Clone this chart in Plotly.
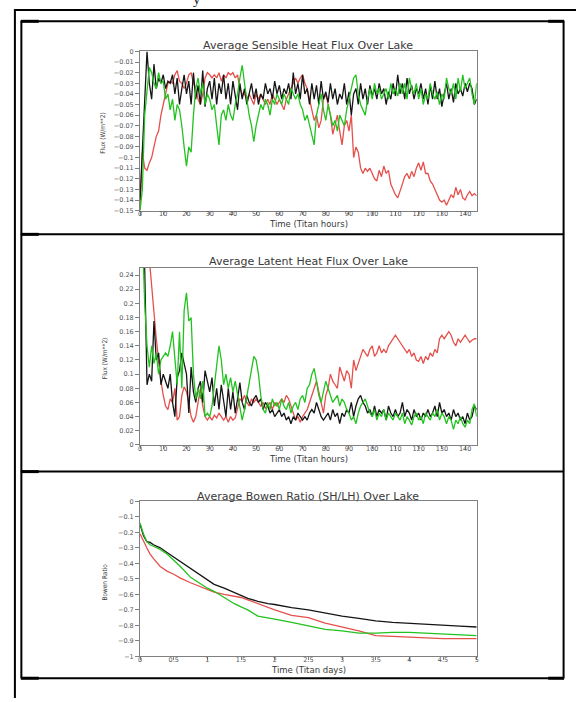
import plotly.graph_objects as go

W, H = 578, 702

# ---------------- data ----------------
hours = list(range(0, 146))

sh_black = [-0.14, -0.09, -0.05, 0.0, -0.03, -0.045, -0.012, -0.035, -0.025, -0.03,
            -0.022, -0.035, -0.028, -0.03, -0.022, -0.04, -0.025, -0.05, -0.035, -0.022,
            -0.04, -0.028, -0.05, -0.02, -0.045, -0.032, -0.05, -0.018, -0.052, -0.035,
            -0.028, -0.045, -0.025, -0.05, -0.03, -0.04, -0.022, -0.045, -0.03, -0.05,
            -0.028, -0.04, -0.055, -0.03, -0.045, -0.035, -0.05, -0.04, -0.03, -0.045,
            -0.035, -0.05, -0.04, -0.045, -0.03, -0.04, -0.035, -0.045, -0.028, -0.04,
            -0.032, -0.045, -0.035, -0.04, -0.03, -0.045, -0.02, -0.04, -0.03, -0.045,
            -0.022, -0.04, -0.035, -0.05, -0.03, -0.045, -0.032, -0.05, -0.028, -0.045,
            -0.038, -0.048, -0.03, -0.045, -0.035, -0.05, -0.04, -0.045, -0.03, -0.05,
            -0.038, -0.06, -0.04, -0.035, -0.05, -0.03, -0.045, -0.035, -0.05, -0.032,
            -0.042, -0.035, -0.045, -0.03, -0.04, -0.035, -0.05, -0.038, -0.045, -0.03,
            -0.042, -0.022, -0.04, -0.03, -0.045, -0.025, -0.04, -0.032, -0.045, -0.035,
            -0.04, -0.03, -0.045, -0.035, -0.05, -0.032, -0.045, -0.028, -0.045, -0.035,
            -0.052, -0.04, -0.03, -0.045, -0.035, -0.048, -0.03, -0.04, -0.035, -0.042,
            -0.03, -0.038, -0.03, -0.035, -0.05, -0.045]

sh_green = [-0.15, -0.13, -0.06, -0.04, -0.015, -0.02, -0.03, -0.035, -0.02, -0.03,
            -0.028, -0.045, -0.04, -0.055, -0.045, -0.065, -0.05, -0.055, -0.07, -0.09,
            -0.108, -0.09, -0.095, -0.06, -0.035, -0.025, -0.04, -0.03, -0.05, -0.04,
            -0.045, -0.055, -0.05, -0.07, -0.088, -0.06, -0.055, -0.065, -0.05, -0.06,
            -0.065, -0.05, -0.04, -0.025, -0.013, -0.03, -0.045, -0.06, -0.07, -0.085,
            -0.07, -0.06, -0.05, -0.055, -0.045, -0.05, -0.06, -0.045, -0.05, -0.04,
            -0.045, -0.05, -0.04, -0.045, -0.05, -0.035, -0.04, -0.045, -0.04, -0.05,
            -0.055, -0.065, -0.06, -0.07, -0.08, -0.088, -0.06, -0.05, -0.04, -0.055,
            -0.065, -0.05, -0.06, -0.07, -0.065, -0.075, -0.06, -0.065, -0.07, -0.055,
            -0.045, -0.035, -0.025, -0.022, -0.04, -0.05, -0.055, -0.06, -0.045, -0.035,
            -0.045, -0.03, -0.04, -0.035, -0.045, -0.04, -0.035, -0.045, -0.03, -0.04,
            -0.035, -0.042, -0.03, -0.04, -0.03, -0.045, -0.025, -0.035, -0.04, -0.03,
            -0.045, -0.035, -0.05, -0.04, -0.045, -0.03, -0.04, -0.045, -0.038, -0.05,
            -0.04, -0.045, -0.025, -0.035, -0.04, -0.03, -0.045, -0.025, -0.038, -0.022,
            -0.035, -0.03, -0.025, -0.04, -0.05, -0.03]

sh_red = [-0.15, -0.095, -0.11, -0.112, -0.105, -0.1, -0.09, -0.08, -0.075, -0.06,
          -0.05, -0.04, -0.03, -0.028, -0.03, -0.022, -0.018, -0.028, -0.03, -0.035,
          -0.03, -0.022, -0.02, -0.03, -0.035, -0.045, -0.05, -0.04, -0.025, -0.02,
          -0.022, -0.025, -0.022, -0.025, -0.02, -0.028, -0.022, -0.025, -0.02, -0.022,
          -0.02, -0.025, -0.022, -0.035, -0.04, -0.04, -0.045, -0.04, -0.045, -0.05,
          -0.04, -0.045, -0.04, -0.045, -0.05, -0.045, -0.05, -0.04, -0.045, -0.05,
          -0.045, -0.05, -0.055, -0.045, -0.04, -0.035, -0.03, -0.025, -0.03, -0.025,
          -0.022, -0.03, -0.035, -0.045, -0.055, -0.065, -0.06, -0.072, -0.065, -0.045,
          -0.04, -0.05, -0.06, -0.078, -0.07, -0.06, -0.075, -0.088, -0.07, -0.065,
          -0.075, -0.06, -0.1, -0.09, -0.095, -0.11, -0.115, -0.11, -0.113, -0.11,
          -0.115, -0.12, -0.122, -0.112, -0.118, -0.108, -0.115, -0.112, -0.125, -0.13,
          -0.135, -0.138, -0.132, -0.125, -0.118, -0.115, -0.12, -0.113, -0.118, -0.11,
          -0.105, -0.112, -0.104, -0.115, -0.115, -0.122, -0.125, -0.13, -0.135, -0.14,
          -0.142, -0.14, -0.145, -0.14, -0.135, -0.138, -0.128, -0.135, -0.13, -0.138,
          -0.14, -0.135, -0.132, -0.136, -0.134, -0.136]

lh_black = [0.35, 0.3, 0.25, 0.085, 0.1, 0.09, 0.175, 0.12, 0.13, 0.085,
            0.1, 0.09, 0.08, 0.1, 0.06, 0.04, 0.095, 0.105, 0.13, 0.115,
            0.1, 0.045, 0.11, 0.075, 0.06, 0.08, 0.09, 0.06, 0.105, 0.09,
            0.075, 0.095, 0.055, 0.08, 0.05, 0.085, 0.065, 0.04, 0.08, 0.05,
            0.075, 0.045, 0.065, 0.088, 0.06, 0.05, 0.07, 0.06, 0.055, 0.065,
            0.07, 0.06, 0.065, 0.05, 0.06, 0.055, 0.045, 0.05, 0.04, 0.045,
            0.05, 0.04, 0.045, 0.035, 0.04, 0.03, 0.04, 0.035, 0.045, 0.04,
            0.035, 0.04, 0.035, 0.045, 0.05, 0.045, 0.06, 0.05, 0.04, 0.035,
            0.04, 0.045, 0.035, 0.05, 0.04, 0.045, 0.03, 0.045, 0.04, 0.05,
            0.045, 0.06, 0.04, 0.055, 0.065, 0.07, 0.06, 0.055, 0.045, 0.05,
            0.04, 0.055, 0.04, 0.05, 0.045, 0.05, 0.035, 0.055, 0.045, 0.04,
            0.05, 0.04, 0.045, 0.06, 0.04, 0.05, 0.045, 0.035, 0.05, 0.04,
            0.045, 0.035, 0.045, 0.04, 0.05, 0.04, 0.045, 0.055, 0.04, 0.06,
            0.045, 0.05, 0.04, 0.045, 0.035, 0.05, 0.04, 0.045, 0.035, 0.04,
            0.03, 0.045, 0.035, 0.04, 0.055, 0.05]

lh_green = [0.35, 0.3, 0.2, 0.14, 0.11, 0.14, 0.115, 0.13, 0.1, 0.12,
            0.125, 0.13, 0.125, 0.14, 0.16, 0.12, 0.085, 0.16, 0.08, 0.19,
            0.215, 0.175, 0.18, 0.1, 0.065, 0.08, 0.065, 0.09, 0.04, 0.045,
            0.04, 0.055, 0.085, 0.11, 0.14, 0.12, 0.085, 0.1, 0.08, 0.095,
            0.075, 0.09, 0.07, 0.055, 0.035, 0.05, 0.07, 0.085, 0.11, 0.125,
            0.12, 0.1, 0.07, 0.05, 0.045, 0.06, 0.05, 0.065, 0.055, 0.06,
            0.05, 0.065, 0.055, 0.05, 0.06, 0.045, 0.055, 0.06, 0.05, 0.065,
            0.07, 0.06, 0.08, 0.085, 0.1, 0.108, 0.09, 0.07, 0.06, 0.075,
            0.09, 0.08, 0.07, 0.06, 0.065, 0.07, 0.055, 0.065, 0.06, 0.05,
            0.045, 0.035, 0.04, 0.03, 0.045, 0.055, 0.06, 0.065, 0.055, 0.045,
            0.04, 0.05, 0.035, 0.045, 0.04, 0.05, 0.035, 0.045, 0.04, 0.035,
            0.045, 0.04, 0.035, 0.045, 0.03, 0.04, 0.035, 0.028, 0.04, 0.045,
            0.035, 0.04, 0.03, 0.045, 0.04, 0.035, 0.045, 0.04, 0.05, 0.035,
            0.045, 0.04, 0.03, 0.04, 0.035, 0.022, 0.035, 0.03, 0.04, 0.03,
            0.025, 0.035, 0.03, 0.05, 0.058, 0.04]

lh_red = [0.4, 0.38, 0.35, 0.3, 0.26, 0.22, 0.19, 0.15, 0.12, 0.09,
          0.07, 0.055, 0.05, 0.065, 0.06, 0.08, 0.035, 0.04, 0.07, 0.082,
          0.075, 0.06, 0.04, 0.032, 0.04, 0.06, 0.08, 0.055, 0.04, 0.035,
          0.04, 0.035, 0.042, 0.038, 0.045, 0.04, 0.035, 0.04, 0.032, 0.04,
          0.035, 0.038, 0.05, 0.065, 0.062, 0.07, 0.06, 0.055, 0.065, 0.06,
          0.065, 0.06, 0.055, 0.06, 0.052, 0.055, 0.06, 0.05, 0.06, 0.055,
          0.06, 0.065, 0.06, 0.07, 0.065, 0.055, 0.045, 0.035, 0.04, 0.032,
          0.04, 0.045, 0.05, 0.06, 0.07, 0.08, 0.09, 0.075, 0.06, 0.045,
          0.07, 0.08, 0.1, 0.09, 0.085, 0.08, 0.11, 0.1, 0.09, 0.105,
          0.1, 0.08, 0.12, 0.105, 0.115, 0.125, 0.135, 0.13, 0.125, 0.135,
          0.14, 0.125, 0.13, 0.14, 0.13, 0.135, 0.13, 0.14, 0.145, 0.15,
          0.155, 0.15, 0.145, 0.14, 0.135, 0.13, 0.135, 0.125, 0.13, 0.12,
          0.118, 0.125, 0.115, 0.125, 0.12, 0.13, 0.125, 0.135, 0.13, 0.15,
          0.155, 0.15, 0.155, 0.16, 0.155, 0.145, 0.14, 0.15, 0.145, 0.15,
          0.155, 0.15, 0.145, 0.148, 0.15, 0.15]

days = [0, 0.05, 0.1, 0.15, 0.2, 0.3, 0.4, 0.5, 0.6, 0.75, 0.9, 1.0, 1.1, 1.25, 1.4, 1.5,
        1.6, 1.75, 1.9, 2.0, 2.25, 2.5, 2.75, 3.0, 3.25, 3.5, 3.75, 4.0, 4.25, 4.5, 4.75, 5.0]
br_black = [-0.15, -0.22, -0.26, -0.265, -0.28, -0.3, -0.33, -0.36, -0.39, -0.43, -0.48,
            -0.51, -0.535, -0.56, -0.59, -0.605, -0.625, -0.645, -0.66, -0.665, -0.685,
            -0.7, -0.72, -0.74, -0.755, -0.77, -0.78, -0.787, -0.795, -0.8, -0.805, -0.81]
br_green = [-0.14, -0.21, -0.26, -0.28, -0.29, -0.31, -0.34, -0.38, -0.42, -0.49, -0.535,
            -0.56, -0.58, -0.62, -0.66, -0.68, -0.7, -0.74, -0.755, -0.76, -0.78,
            -0.805, -0.825, -0.835, -0.85, -0.85, -0.845, -0.845, -0.85, -0.855, -0.86, -0.865]
br_red = [-0.21, -0.26, -0.3, -0.34, -0.37, -0.42, -0.45, -0.47, -0.495, -0.525, -0.55,
          -0.57, -0.585, -0.6, -0.61, -0.62, -0.635, -0.66, -0.685, -0.7, -0.735,
          -0.75, -0.785, -0.81, -0.835, -0.865, -0.87, -0.875, -0.88, -0.885, -0.885, -0.885]

titles = ["Average Sensible Heat Flux Over Lake",
          "Average Latent Heat Flux Over Lake",
          "Average Bowen Ratio (SH/LH) Over Lake"]
xlabels = ["Time (Titan hours)", "Time (Titan hours)", "Time (Titan days)"]
ylabels = ["Flux (W/m**2)", "Flux (W/m**2)", "Bowen Ratio"]

# ---------------- style ----------------
RED = "#e5504c"
GREEN = "#22c21f"
BLACK = "#151515"
FONT = "DejaVu Sans"


def px(x):
    return x / W


def py(y):
    return 1 - y / H


fig = go.Figure()

# plot areas in pixel coordinates: (top, bottom)
x0, x1 = 139, 478
panels = [(48, 209), (267, 446), (503, 660)]

series = [
    (hours, [sh_red, sh_black, sh_green]),
    (hours, [lh_red, lh_black, lh_green]),
    (days, [br_red, br_black, br_green]),
]
colors = [RED, BLACK, GREEN]
yranges = [[-0.15, 0], [0, 0.25], [-1, 0]]
ydticks = [0.01, 0.02, 0.1]
xranges = [[0, 145], [0, 145], [0, 5]]
xdticks = [10, 10, 0.5]

for i, (xs, ys_list) in enumerate(series):
    n = "" if i == 0 else str(i + 1)
    for ys, c in zip(ys_list, colors):
        fig.add_trace(go.Scatter(x=xs, y=ys, mode="lines",
                                 line=dict(color=c, width=1.3),
                                 xaxis="x" + n, yaxis="y" + n, showlegend=False,
                                 hoverinfo="skip"))
    top, bot = panels[i]
    axcommon = dict(showline=True, linecolor="#808080", linewidth=1, mirror=True,
                    ticks="outside", tickcolor="#808080", tickwidth=1,
                    showgrid=False, zeroline=False,
                    tickfont=dict(family=FONT, size=6.5, color="#555555"))
    fig.update_layout(**{
        "xaxis" + n: dict(domain=[px(x0), px(x1)], anchor="y" + n,
                          range=xranges[i], dtick=xdticks[i], tick0=0, ticklen=3,
                          ticklabelstandoff=-6, **axcommon),
        "yaxis" + n: dict(domain=[py(bot), py(top)], anchor="x" + n, ticklen=4,
                          range=yranges[i], dtick=ydticks[i], tick0=0, **axcommon),
    })

annotations = []
title_y = [42, 260, 498]
xlab_y = [222.5, 460.5, 673.5]
ylab_xy = [(101, 130), (104, 358), (104, 585)]
for i in range(3):
    annotations.append(dict(text=titles[i], x=px((x0 + x1) / 2), y=py(title_y[i]),
                            xref="paper", yref="paper", showarrow=False,
                            xanchor="center", yanchor="middle",
                            font=dict(family=FONT, size=11, color="#3a3a3a")))
    annotations.append(dict(text=xlabels[i], x=px((x0 + x1) / 2), y=py(xlab_y[i]),
                            xref="paper", yref="paper", showarrow=False,
                            xanchor="center", yanchor="middle",
                            font=dict(family=FONT, size=8.5, color="#3a3a3a")))
    annotations.append(dict(text=ylabels[i], x=px(ylab_xy[i][0]), y=py(ylab_xy[i][1]),
                            xref="paper", yref="paper", showarrow=False, textangle=-90,
                            xanchor="center", yanchor="middle",
                            font=dict(family="DejaVu Sans Condensed", size=6.5, color="#3a3a3a")))

# partial caption glyph at very top (only its descender shows)
annotations.append(dict(text="y", x=px(196), y=py(-5), xref="paper", yref="paper",
                        showarrow=False, xanchor="center", yanchor="middle",
                        font=dict(family="Liberation Serif", size=15, color="#222222")))

shapes = []


def hline(y, xa, xb, w=2):
    shapes.append(dict(type="line", xref="paper", yref="paper",
                       x0=px(xa), x1=px(xb), y0=py(y), y1=py(y),
                       line=dict(color="black", width=w)))


def vline(x, ya, yb, w=2):
    shapes.append(dict(type="line", xref="paper", yref="paper",
                       x0=px(x), x1=px(x), y0=py(ya), y1=py(yb),
                       line=dict(color="black", width=w)))


# page frame
hline(6, 12, 578)
vline(13, 6, 702)
# table
hline(17.5, 19, 566)
hline(233, 19, 566)
hline(473, 19, 566)
hline(682, 19, 566)
vline(19.5, 17, 682)
vline(565.5, 17, 682)
# thicker corner bits
for yy in (17.5, 233, 473, 682):
    hline(yy, 19, 37, 3)
hline(17.5, 550, 566, 3)
hline(682, 550, 566, 3)

fig.update_layout(width=W, height=H, margin=dict(l=0, r=0, t=0, b=0),
                  paper_bgcolor="white", plot_bgcolor="white",
                  annotations=annotations, shapes=shapes, showlegend=False)

fig.write_html("out.html", config={"displayModeBar": False},
               post_script="document.body.style.margin='0px';"
                           "document.body.style.overflow='hidden';")
